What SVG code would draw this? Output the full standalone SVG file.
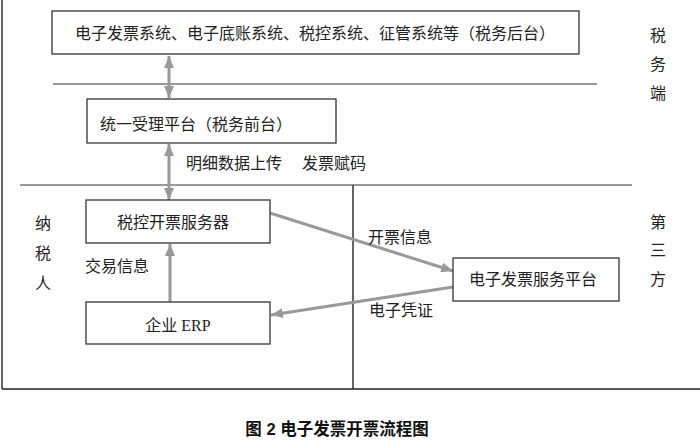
<svg xmlns="http://www.w3.org/2000/svg" width="700" height="441" viewBox="0 0 700 441">
<style>
.bg{fill:#ffffff}
.box{fill:#ffffff;stroke:#333333;stroke-width:1.3}
.t{font-family:"Liberation Serif","Noto Sans CJK SC",serif;font-size:16px;fill:#222222}
.cap{font-family:"Liberation Sans","Noto Sans CJK SC",sans-serif;font-size:16.5px;font-weight:bold;fill:#111111}
.frame{stroke:#222222;stroke-width:1.4;fill:none}
.sep{stroke:#333333;stroke-width:1;fill:none}
.conn{stroke:#999999;stroke-width:3;fill:none}
</style>
<defs>
<marker id="ah" viewBox="0 0 12 10" markerWidth="12" markerHeight="10" refX="12" refY="5" orient="auto-start-reverse" markerUnits="userSpaceOnUse">
<path d="M0,0 L12,5 L0,10 z" fill="#999999"/>
</marker>
</defs>
<rect class="bg" x="0" y="0" width="700" height="441"/>
<g id="frame">
<line class="frame" x1="2" y1="0" x2="2" y2="389"/>
<line class="frame" x1="2" y1="389" x2="700" y2="389"/>
<line class="sep" x1="53" y1="84" x2="597" y2="84"/>
<line class="sep" x1="20" y1="185" x2="632" y2="185"/>
<line class="frame" x1="353" y1="185" x2="353" y2="389"/>
</g>
<g id="connectors">
<line class="conn" x1="169" y1="56" x2="169" y2="98" marker-start="url(#ah)" marker-end="url(#ah)"/>
<line class="conn" x1="169" y1="144" x2="169" y2="200" marker-start="url(#ah)" marker-end="url(#ah)"/>
<line class="conn" x1="170" y1="302" x2="170" y2="244" marker-end="url(#ah)"/>
<line class="conn" x1="270" y1="213" x2="453" y2="271" marker-end="url(#ah)"/>
<line class="conn" x1="453" y1="287" x2="271" y2="315" marker-end="url(#ah)"/>
</g>
<g id="backend">
<rect class="box" x="52" y="11" width="527" height="43"/>
<text class="t" x="315" y="39" text-anchor="middle">电子发票系统、电子底账系统、税控系统、征管系统等（税务后台）</text>
</g>
<g id="frontend">
<rect class="box" x="87" y="99" width="249" height="44"/>
<text class="t" x="100" y="130">统一受理平台（税务前台）</text>
</g>
<g id="server">
<rect class="box" x="86" y="200" width="184" height="43"/>
<text class="t" x="117" y="228">税控开票服务器</text>
</g>
<g id="erp">
<rect class="box" x="86" y="302" width="184" height="42"/>
<text class="t" x="178" y="331" text-anchor="middle">企业 ERP</text>
</g>
<g id="platform">
<rect class="box" x="453" y="258" width="166" height="43"/>
<text class="t" x="533" y="285" text-anchor="middle">电子发票服务平台</text>
</g>
<g id="labels">
<text class="t" x="186" y="169">明细数据上传</text>
<text class="t" x="302" y="169">发票赋码</text>
<text class="t" x="368" y="243">开票信息</text>
<text class="t" x="369" y="316">电子凭证</text>
<text class="t" x="85" y="272">交易信息</text>
<text class="t" x="43" y="229" text-anchor="middle">纳</text>
<text class="t" x="43" y="259" text-anchor="middle">税</text>
<text class="t" x="43" y="289" text-anchor="middle">人</text>
<text class="t" x="658" y="41" text-anchor="middle">税</text>
<text class="t" x="658" y="70" text-anchor="middle">务</text>
<text class="t" x="658" y="99" text-anchor="middle">端</text>
<text class="t" x="658" y="228" text-anchor="middle">第</text>
<text class="t" x="658" y="256" text-anchor="middle">三</text>
<text class="t" x="658" y="285" text-anchor="middle">方</text>
<text class="cap" x="337" y="435" text-anchor="middle">图 2 电子发票开票流程图</text>
</g>
</svg>
